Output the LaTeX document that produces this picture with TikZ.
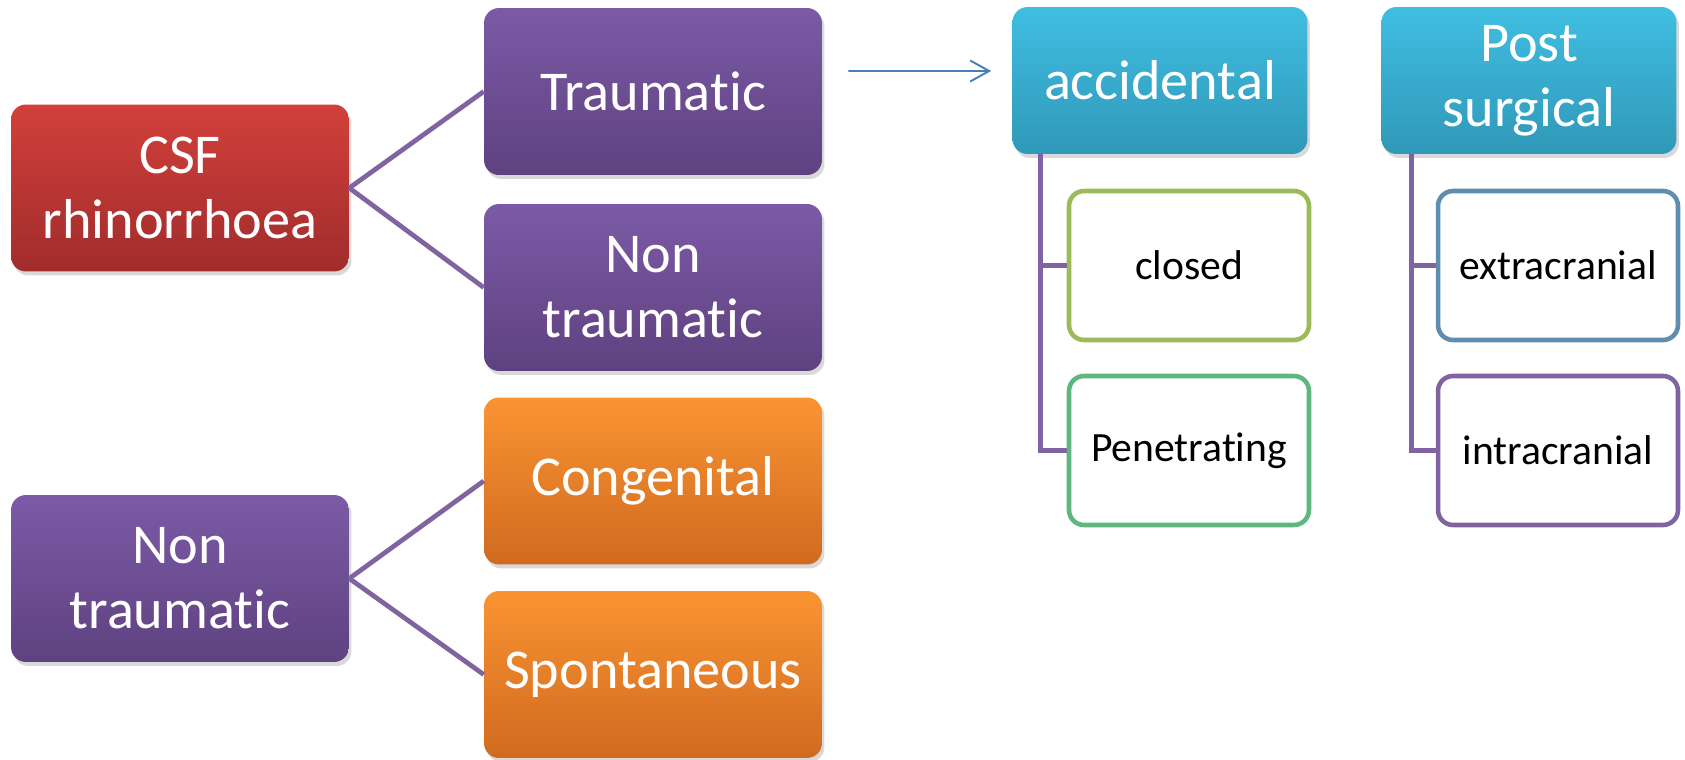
\documentclass[tikz,border=0pt]{standalone}
\usepackage{fontspec}
\setmainfont{Carlito}[Ligatures=NoCommon]
\usetikzlibrary{shadows,arrows.meta}

\definecolor{redTop}{HTML}{D2403B}
\definecolor{redBot}{HTML}{A02C2C}
\definecolor{purTop}{HTML}{7C5AA6}
\definecolor{purBot}{HTML}{5E4280}
\definecolor{orgTop}{HTML}{FA9432}
\definecolor{orgBot}{HTML}{D06A20}
\definecolor{cyaTop}{HTML}{40BEE2}
\definecolor{cyaBot}{HTML}{3098B8}
\definecolor{linePur}{HTML}{8064A2}
\definecolor{lineBlue}{HTML}{4A7EBB}
\definecolor{olive}{HTML}{9BBB59}
\definecolor{leaf}{HTML}{5FB67E}
\definecolor{steel}{HTML}{5F8DB0}

\tikzset{
  box/.style={rounded corners=0.3cm, minimum width=6.76cm, minimum height=3.34cm,
    align=center, text=white, font=\fontsize{32}{37}\selectfont,
    drop shadow={opacity=0.3, shadow xshift=0.05cm, shadow yshift=-0.08cm}},
  redbox/.style={box, top color=redTop, bottom color=redBot},
  purbox/.style={box, top color=purTop, bottom color=purBot},
  orgbox/.style={box, top color=orgTop, bottom color=orgBot},
  cyabox/.style={box, minimum width=5.9cm, minimum height=2.94cm,
    top color=cyaTop, bottom color=cyaBot},
  leafbox/.style={draw, line width=2.6pt, fill=white, rounded corners=0.3cm,
    minimum width=4.8cm, minimum height=2.98cm, align=center,
    font=\fontsize{23.7}{28}\selectfont},
  conn/.style={draw=linePur, line width=2.7pt},
}

\begin{document}
\begin{tikzpicture}[x=0.02cm, y=-0.02cm]
    \useasboundingbox (0,0) rectangle (1685,760);

    % left trees
    \node[redbox] (csf) at (180,188) {CSF\\rhinorrhoea};
    \node[purbox] (trau) at (653,91.5) {Traumatic};
    \node[purbox] (ntrau) at (653,287.5) {Non\\traumatic};
    \draw[conn] (csf.east) -- (trau.west);
    \draw[conn] (csf.east) -- (ntrau.west);

    \node[purbox] (ntrauB) at (180,578.5) {Non\\traumatic};
    \node[orgbox] (cong) at (653,481) {Congenital};
    \node[orgbox] (spon) at (653,674.5) {Spontaneous};
    \draw[conn] (ntrauB.east) -- (cong.west);
    \draw[conn] (ntrauB.east) -- (spon.west);

    % right trees
    \node[cyabox] (acc) at (1160,80.5) {accidental};
    \node[cyabox] (post) at (1529,80.5) {Post\\surgical};
    \node[leafbox, draw=olive] (closed) at (1189,265.5) {closed};
    \node[leafbox, draw=leaf] (pen) at (1189,450.5) {Penetrating};
    \node[leafbox, draw=steel] (extra) at (1558,265.5) {extracranial};
    \node[leafbox, draw=linePur] (intra) at (1558,450.5) {intracranial};
    \draw[conn] ([xshift=0.57cm]acc.south west) |- (closed.west);
    \draw[conn] ([xshift=0.57cm]acc.south west) |- (pen.west);
    \draw[conn] ([xshift=0.6cm]post.south west) |- (extra.west);
    \draw[conn] ([xshift=0.6cm]post.south west) |- (intra.west);

    \draw[lineBlue, line width=1.1pt, -{Straight Barb[length=0.38cm,width=0.42cm]}]
        ([xshift=0.52cm,yshift=0.41cm]trau.east) -- ([xshift=-0.42cm,yshift=0.19cm]acc.west);
\end{tikzpicture}
\end{document}
